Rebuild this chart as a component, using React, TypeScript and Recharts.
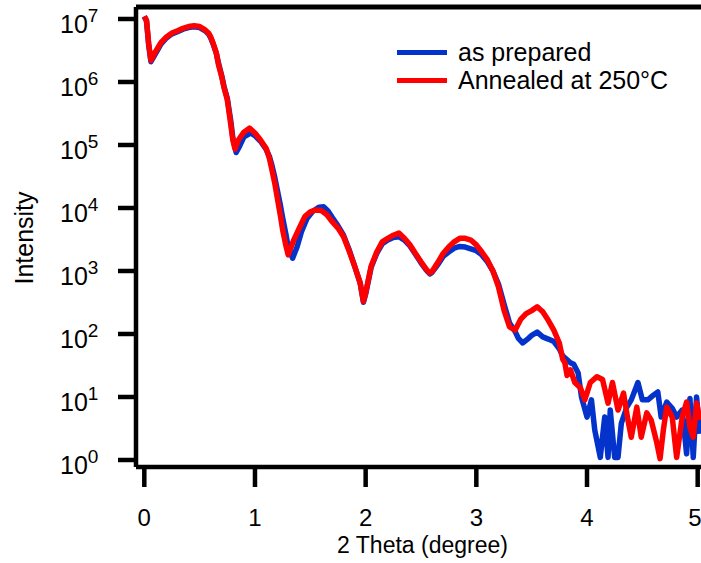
import { LineChart, Line, XAxis, YAxis, ReferenceLine, Legend } from "recharts";

const preparedTheta = [
  0.0, 0.02, 0.04, 0.06, 0.1, 0.15, 0.2, 0.25, 0.3, 0.35, 0.4, 0.45, 0.5, 0.55, 0.58, 0.6, 0.62, 0.65, 0.67, 0.7,
  0.72, 0.75, 0.78, 0.8, 0.83, 0.86, 0.9, 0.96, 1.0, 1.05, 1.1, 1.13, 1.15, 1.18, 1.2, 1.23, 1.25, 1.28, 1.3, 1.34,
  1.38, 1.42, 1.47, 1.52, 1.58, 1.62, 1.66, 1.7, 1.75, 1.8, 1.85, 1.9, 1.95, 1.98, 2.0, 2.05, 2.1, 2.15, 2.2, 2.25,
  2.3, 2.35, 2.4, 2.45, 2.5, 2.55, 2.58, 2.6, 2.65, 2.7, 2.75, 2.8, 2.85, 2.9, 2.95, 3.0, 3.05, 3.1, 3.15, 3.2,
  3.25, 3.3, 3.35, 3.38, 3.42, 3.46, 3.5, 3.55, 3.6, 3.65, 3.7, 3.75, 3.78, 3.8, 3.85, 3.88, 3.92, 3.95, 4.0, 4.04,
  4.07, 4.12, 4.16, 4.19, 4.21, 4.25, 4.28, 4.31, 4.36, 4.4, 4.46, 4.5, 4.55, 4.6, 4.64, 4.67, 4.72, 4.77, 4.81, 4.86,
  4.9, 4.93, 4.96, 4.99, 5.02,
];
const preparedIntensity = [
  1.1e7, 9.3e6, 3.8e6, 2.1e6, 2.8e6, 4.0e6, 5.0e6, 5.8e6, 6.3e6, 6.9e6, 7.3e6, 7.5e6, 7.3e6, 6.5e6, 5.8e6, 5.0e6, 4.1e6, 2.9e6, 2.0e6, 1.25e6,
  8.5e5, 5.5e5, 2.5e5, 1.3e5, 7.6e4, 9.5e4, 1.35e5, 1.55e5, 1.4e5, 1.15e5, 8.6e4, 6.6e4, 5.0e4, 3.0e4, 2.0e4, 1.1e4, 7.0e3, 3.8e3, 2.4e3, 1.6e3,
  2.4e3, 4.2e3, 6.8e3, 8.8e3, 1.03e4, 1.05e4, 9.0e3, 7.0e3, 5.2e3, 3.7e3, 2.2e3, 1.2e3, 650, 320, 430, 1.15e3, 1.9e3, 2.7e3, 3.1e3, 3.4e3,
  3.5e3, 3.1e3, 2.5e3, 1.85e3, 1.35e3, 1.02e3, 900, 950, 1.25e3, 1.7e3, 2.0e3, 2.3e3, 2.45e3, 2.4e3, 2.25e3, 2.1e3, 1.8e3, 1.4e3, 1.0e3, 620,
  300, 150, 110, 85, 72, 82, 95, 107, 90, 83, 76, 58, 45, 42, 35, 33, 24, 10, 4.8, 9,
  3, 1.1, 4.8, 1.1, 6.2, 1.1, 1.1, 3.8, 6.9, 9, 17, 9, 9, 10.7, 12, 4.8, 8.3, 6.6, 4.8, 6.2,
  1.25, 9.5, 1.1, 10, 2.6,
];

const annealedTheta = [
  0.0, 0.02, 0.04, 0.06, 0.1, 0.15, 0.2, 0.25, 0.3, 0.35, 0.4, 0.45, 0.5, 0.55, 0.58, 0.6, 0.62, 0.65, 0.67, 0.7,
  0.72, 0.75, 0.78, 0.8, 0.82, 0.85, 0.9, 0.95, 1.0, 1.05, 1.1, 1.13, 1.15, 1.18, 1.2, 1.23, 1.25, 1.28, 1.3, 1.35,
  1.4, 1.45, 1.5, 1.55, 1.6, 1.65, 1.7, 1.75, 1.8, 1.85, 1.9, 1.95, 1.98, 2.0, 2.05, 2.1, 2.15, 2.2, 2.25, 2.3,
  2.35, 2.4, 2.45, 2.5, 2.55, 2.58, 2.6, 2.65, 2.7, 2.75, 2.8, 2.85, 2.9, 2.95, 3.0, 3.05, 3.1, 3.15, 3.2, 3.25,
  3.3, 3.35, 3.4, 3.45, 3.5, 3.55, 3.6, 3.65, 3.7, 3.75, 3.78, 3.8, 3.82, 3.85, 3.89, 3.94, 3.98, 4.03, 4.09, 4.14,
  4.19, 4.23, 4.28, 4.33, 4.37, 4.4, 4.45, 4.49, 4.54, 4.58, 4.63, 4.66, 4.69, 4.72, 4.77, 4.81, 4.86, 4.9, 4.93, 4.96,
  4.99, 5.02,
];
const annealedIntensity = [
  1.1e7, 9.5e6, 4.0e6, 2.2e6, 3.0e6, 4.2e6, 5.2e6, 6.0e6, 6.5e6, 7.1e6, 7.6e6, 7.8e6, 7.6e6, 6.7e6, 6.0e6, 5.2e6, 4.2e6, 2.9e6, 1.9e6, 1.2e6,
  8.2e5, 5.2e5, 2.2e5, 1.2e5, 8.6e4, 1.2e5, 1.6e5, 1.85e5, 1.55e5, 1.2e5, 8.9e4, 6.2e4, 4.3e4, 2.4e4, 1.5e4, 7.5e3, 4.5e3, 2.5e3, 1.8e3, 3.1e3,
  4.8e3, 7.3e3, 8.7e3, 9.3e3, 9.1e3, 7.8e3, 6.0e3, 4.8e3, 3.5e3, 2.1e3, 1.2e3, 650, 330, 450, 1.2e3, 2.0e3, 2.9e3, 3.3e3, 3.7e3, 4.0e3,
  3.3e3, 2.6e3, 1.9e3, 1.4e3, 1.05e3, 930, 980, 1.35e3, 1.9e3, 2.4e3, 2.9e3, 3.3e3, 3.3e3, 3.1e3, 2.6e3, 2.0e3, 1.5e3, 1.0e3, 560, 240,
  130, 115, 170, 210, 235, 270, 225, 165, 115, 72, 40, 35, 22, 27, 17, 14, 9, 17, 21, 19,
  8, 17, 6.2, 11.5, 4.3, 2.3, 6.9, 2.3, 5.6, 4.3, 1.9, 1.05, 3.0, 6.9, 4.8, 1.1, 4.8, 8.3, 3.3, 2.3,
  8, 4.3,
];

const seriesNames = ["as prepared", "Annealed at 250°C"];
const seriesColors = ["#0433CC", "#FF0000"];

const xTicks = [0, 1, 2, 3, 4, 5];
const yTicks = [1, 10, 100, 1e3, 1e4, 1e5, 1e6, 1e7];

const xDomain = [-0.075, 5.03];
const yDomain = [0.774, 1.55e7];

const font = "'Liberation Sans', Arial, Helvetica, sans-serif";

const toRows = (xs: number[], ys: number[]) => xs.map((x, i) => ({ x, y: ys[i] }));

const preparedData = toRows(preparedTheta, preparedIntensity);
const annealedData = toRows(annealedTheta, annealedIntensity);

function PowerTick({ y, payload }: any) {
  const exp = Math.round(Math.log10(payload.value));
  return (
    <text x={60} y={y + 14} fontSize={25} fill="#000" fontFamily={font}>
      10
      <tspan dy={-11} fontSize={19}>
        {exp}
      </tspan>
    </text>
  );
}

function YTitle() {
  return (
    <text
      x={33}
      y={238}
      transform="rotate(-90 33 238)"
      textAnchor="middle"
      fontSize={25}
      fill="#000"
      fontFamily={font}
    >
      Intensity
    </text>
  );
}

function LegendBox() {
  return (
    <div style={{ fontSize: 25, fontFamily: font, color: "#000" }}>
      {seriesNames.map((name, i) => (
        <div key={name} style={{ display: "flex", alignItems: "center", height: 28, whiteSpace: "nowrap" }}>
          <span style={{ width: 50, height: 5, background: seriesColors[i], marginRight: 11 }} />
          <span style={{ lineHeight: "28px" }}>{name}</span>
        </div>
      ))}
    </div>
  );
}

export default function App() {
  const axisStroke = { stroke: "#000", strokeWidth: 4.5 };

  return (
    <div
      style={{
        position: "absolute",
        left: 0,
        top: 0,
        width: 701,
        height: 563,
        background: "#fff",
        fontFamily: font,
        overflow: "hidden",
      }}
    >
      <LineChart width={701} height={563} margin={{ top: 7, right: 0, bottom: 0, left: 0 }}>
        <XAxis
          type="number"
          dataKey="x"
          domain={xDomain}
          ticks={xTicks}
          allowDataOverflow
          height={96}
          axisLine={axisStroke}
          tickLine={axisStroke}
          tickSize={20}
          tickMargin={22}
          tick={{ fontSize: 24, fill: "#000", fontFamily: font }}
          label={{
            value: "2 Theta (degree)",
            position: "insideBottom",
            offset: 10,
            dx: 4,
            fontSize: 23,
            fill: "#000",
            fontFamily: font,
          }}
        />
        <YAxis
          scale="log"
          domain={yDomain}
          ticks={yTicks}
          allowDataOverflow
          width={136}
          axisLine={axisStroke}
          tickLine={axisStroke}
          tickSize={18}
          tick={<PowerTick />}
          label={<YTitle />}
        />
        <ReferenceLine y={yDomain[1]} stroke="#000" strokeWidth={5} />
        <Line
          data={preparedData}
          dataKey="y"
          name={seriesNames[0]}
          stroke={seriesColors[0]}
          strokeWidth={5.5}
          strokeLinejoin="round"
          dot={false}
          type="linear"
          isAnimationActive={false}
        />
        <Line
          data={annealedData}
          dataKey="y"
          name={seriesNames[1]}
          stroke={seriesColors[1]}
          strokeWidth={5.5}
          strokeLinejoin="round"
          dot={false}
          type="linear"
          isAnimationActive={false}
        />
        <Legend
          layout="vertical"
          align="center"
          verticalAlign="middle"
          content={<LegendBox />}
          wrapperStyle={{ position: "absolute", left: 397, top: 38, width: 300 }}
        />
      </LineChart>
    </div>
  );
}
